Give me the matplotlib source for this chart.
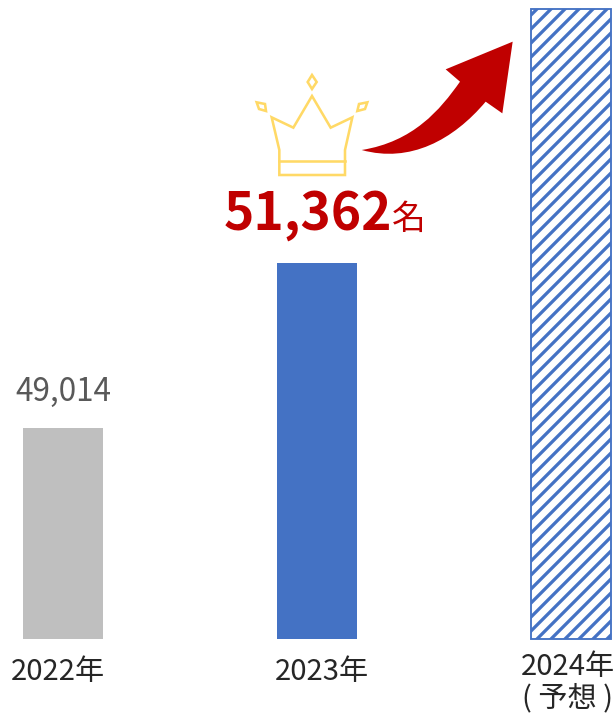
import matplotlib
matplotlib.use('Agg')
import matplotlib.pyplot as plt
from matplotlib.patches import PathPatch, Polygon
from matplotlib.path import Path

plt.rcParams['font.family'] = ['Noto Sans CJK JP', 'DejaVu Sans']

years = ['2022年', '2023年', '2024年', '( 予想 )']
values = [49014, 51362, 54980]

DPI = 84
W, H = 616, 717
BLUE = '#4472C4'
RED = '#C00000'
GOLD = '#FFD966'

plt.rcParams['hatch.linewidth'] = 2.8
plt.rcParams['hatch.color'] = BLUE

fig = plt.figure(figsize=(W / DPI, H / DPI), dpi=DPI)

# bars: axis cut off at about 46000, as in the original
ax = fig.add_axes([0, 0, 1, 1])
x_scale = 254
y_scale = 14.23
ax.set_xlim(-63 / x_scale, (W - 63) / x_scale)
ax.set_ylim(46011 - (H - 639) * y_scale, 46011 + 639 * y_scale)
ax.axis('off')
bar_w = 80 / x_scale
ax.bar(0, values[0] - 46011, bottom=46011, width=bar_w, color='#BFBFBF')
ax.bar(1, values[1] - 46011, bottom=46011, width=bar_w, color=BLUE)
ax.bar(2, values[2] - 46011, bottom=46011, width=bar_w, facecolor='white',
       edgecolor=BLUE, hatch='//', linewidth=1.6)

# overlay in pixels for the text and the decorations
ov = fig.add_axes([0, 0, 1, 1])
ov.set_xlim(0, W)
ov.set_ylim(H, 0)
ov.axis('off')
ov.patch.set_alpha(0)

def crop(pts):
    return [(240 + a / 3, b / 3) for a, b in pts]

crown = crop([(118, 482), (118, 450), (95, 352), (160, 383), (216, 288), (272, 383),
              (337, 352), (315, 450), (315, 482), (315, 525), (118, 525)])
gems = [crop([(216, 225), (230, 246), (216, 267), (203, 246)]),
        crop([(50, 307), (75, 312), (78, 333), (57, 327)]),
        crop([(382, 307), (357, 312), (352, 333), (375, 327)])]
ov.add_patch(Polygon(crown, closed=True, fill=False, edgecolor=GOLD, linewidth=2.2))
ov.plot(*zip(*crop([(118, 482), (315, 482)])), color=GOLD, linewidth=2.2)
for g in gems:
    ov.add_patch(Polygon(g, closed=True, fill=False, edgecolor=GOLD, linewidth=2.2))

arrow_pts = crop([(365, 450), (520, 425), (600, 330), (660, 245), (617, 208), (818, 125),
                  (787, 340), (737, 305), (640, 420), (510, 490), (365, 450)])
arrow_codes = [Path.MOVETO, Path.CURVE4, Path.CURVE4, Path.CURVE4, Path.LINETO, Path.LINETO,
               Path.LINETO, Path.LINETO, Path.CURVE4, Path.CURVE4, Path.CURVE4]
ov.add_patch(PathPatch(Path(arrow_pts, arrow_codes), facecolor=RED, edgecolor='none'))

ov.text(63, 392, f'{values[0]:,}', ha='center', va='center', fontsize=27, color='#595959')
ov.text(392, 214, f'{values[1]:,}', ha='right', va='center', fontsize=44, color=RED, fontweight='bold')
ov.text(392, 219, '名', ha='left', va='center', fontsize=29, color=RED)
ov.text(58, 672, years[0], ha='center', va='center', fontsize=25, color='#262626')
ov.text(322, 672, years[1], ha='center', va='center', fontsize=25, color='#262626')
ov.text(568, 667, years[2], ha='center', va='center', fontsize=25, color='#262626')
ov.text(568, 698, years[3], ha='center', va='center', fontsize=25, color='#262626')

fig.savefig('out.png', dpi=DPI)
